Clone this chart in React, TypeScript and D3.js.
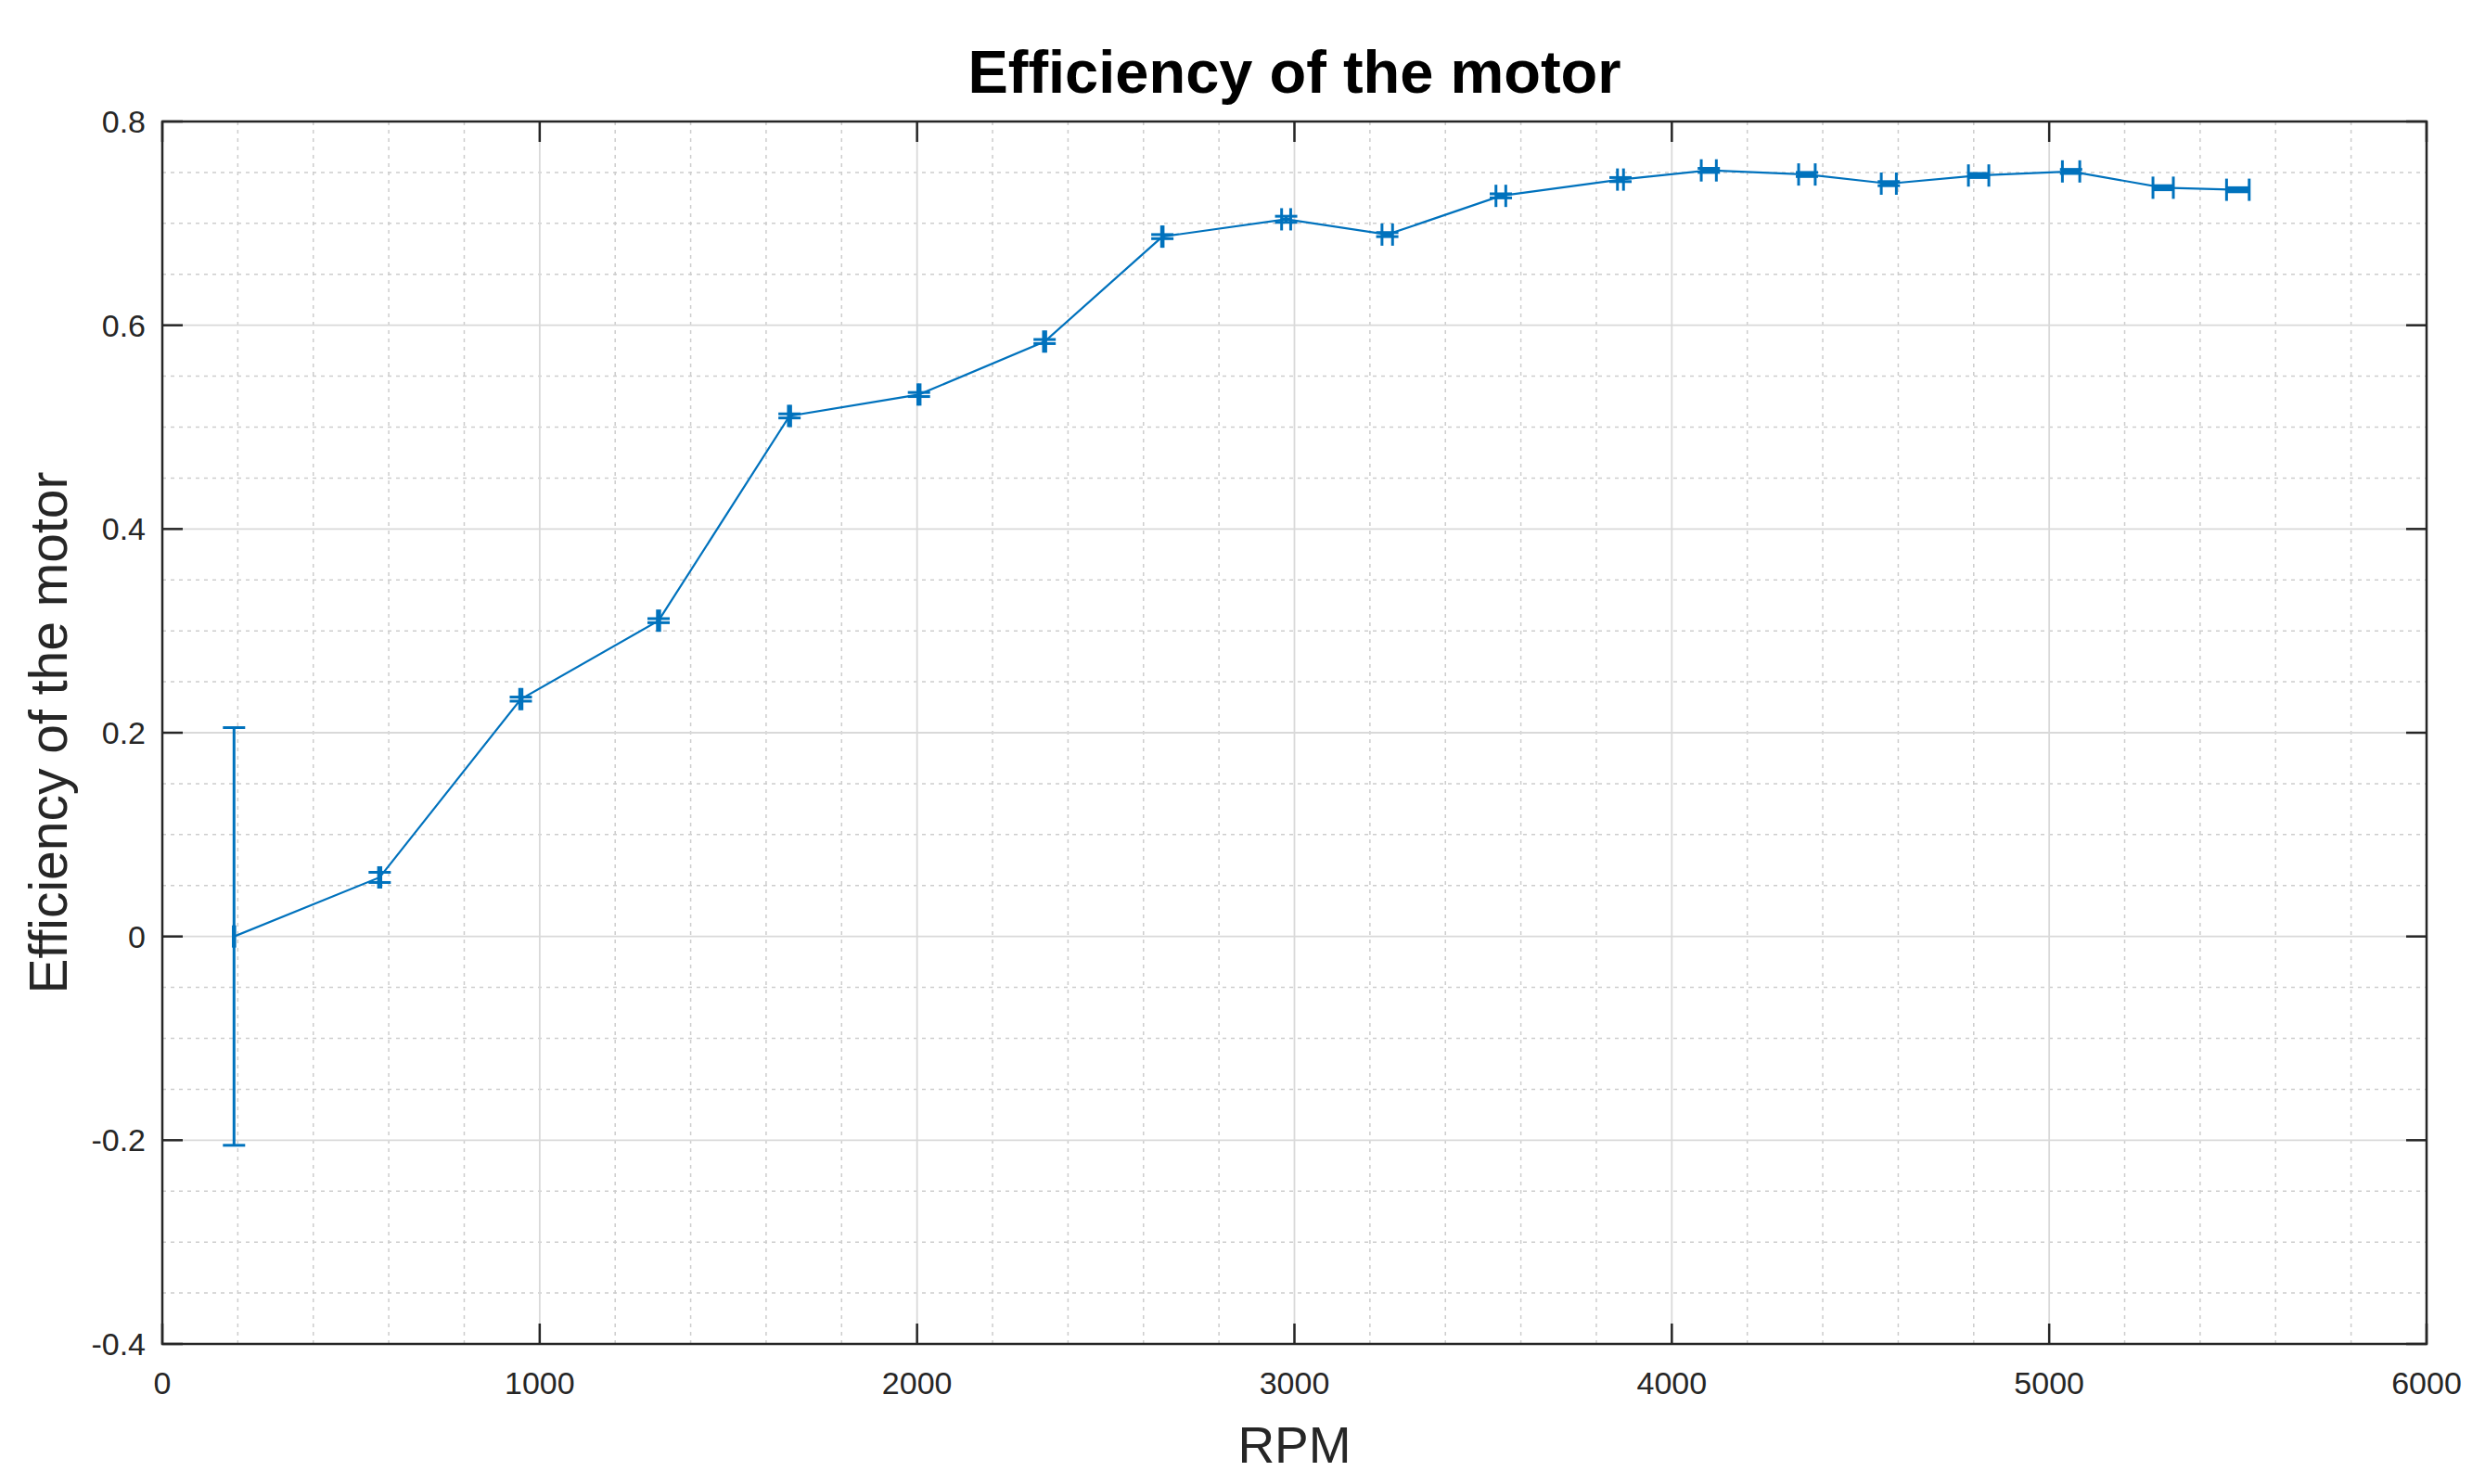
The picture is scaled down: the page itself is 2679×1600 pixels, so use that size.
import React, { useEffect, useRef } from 'react';
import * as d3 from 'd3';

// measured points (RPM vs efficiency), with error in both directions
const rpm = [190, 576, 950, 1315, 1662, 2005, 2338, 2650, 2978, 3246, 3547, 3864, 4098, 4358, 4575, 4813, 5058, 5302, 5500];
const efficiency = [0.0, 0.058, 0.233, 0.31, 0.511, 0.532, 0.584, 0.687, 0.704, 0.689, 0.727, 0.743, 0.752, 0.748, 0.739, 0.747, 0.751, 0.735, 0.733];
const efficiencyErr = [0.205, 0.005, 0.002, 0.002, 0.002, 0.002, 0.002, 0.002, 0.003, 0.002, 0.002, 0.002, 0.002, 0.002, 0.002, 0.002, 0.002, 0.002, 0.002];
const rpmErr = [2, 3, 3, 3, 3, 3, 3, 2, 12, 14, 13, 8, 20, 22, 20, 27, 23, 27, 30];

const xTicks = [0, 1000, 2000, 3000, 4000, 5000, 6000];
const yTicks = [-0.4, -0.2, 0, 0.2, 0.4, 0.6, 0.8];

const title = 'Efficiency of the motor';
const xLabel = 'RPM';
const yLabel = 'Efficiency of the motor';

const W = 2679;
const H = 1600;
const margin = { top: 131, right: 63, bottom: 151, left: 175 };
const blue = '#0072BD';
const ink = '#262626';
const font = '"Liberation Sans", Arial, Helvetica, sans-serif';

const App: React.FC = () => {
  const ref = useRef<SVGSVGElement>(null);

  useEffect(() => {
    document.body.style.margin = '0';
    if (!ref.current) return;
    const svg = d3.select(ref.current);
    svg.selectAll('*').remove();

    const x = d3.scaleLinear().domain([0, 6000]).range([margin.left, W - margin.right]);
    const y = d3.scaleLinear().domain([-0.4, 0.8]).range([H - margin.bottom, margin.top]);
    const [x0, x1] = x.range();
    const [y0, y1] = y.range();

    svg.append('rect').attr('width', W).attr('height', H).attr('fill', '#fff');

    // minor grid (dotted)
    const minor = svg.append('g').attr('stroke', '#cdcdcd').attr('stroke-width', 1.5).attr('stroke-dasharray', '4,5');
    x.ticks(30)
      .filter((t) => !xTicks.includes(t))
      .forEach((t) => minor.append('line').attr('x1', x(t)).attr('x2', x(t)).attr('y1', y0).attr('y2', y1));
    y.ticks(24)
      .filter((t) => !yTicks.some((m) => Math.abs(m - t) < 1e-9))
      .forEach((t) => minor.append('line').attr('y1', y(t)).attr('y2', y(t)).attr('x1', x0).attr('x2', x1));

    // major grid
    const major = svg.append('g').attr('stroke', '#d9d9d9').attr('stroke-width', 1.8);
    xTicks.forEach((t) => major.append('line').attr('x1', x(t)).attr('x2', x(t)).attr('y1', y0).attr('y2', y1));
    yTicks.forEach((t) => major.append('line').attr('y1', y(t)).attr('y2', y(t)).attr('x1', x0).attr('x2', x1));

    // data line
    const line = d3
      .line<number>()
      .x((_, i) => x(rpm[i]))
      .y((d) => y(d));
    svg
      .append('path')
      .datum(efficiency)
      .attr('d', line)
      .attr('fill', 'none')
      .attr('stroke', blue)
      .attr('stroke-width', 2.2);

    // error bars, vertical and horizontal, with caps
    const cap = 12;
    const eb = svg.append('g').attr('stroke', blue).attr('stroke-width', 3).attr('fill', 'none');
    rpm.forEach((r, i) => {
      const cx = x(r);
      const cy = y(efficiency[i]);
      const yt = y(efficiency[i] + efficiencyErr[i]);
      const yb = y(efficiency[i] - efficiencyErr[i]);
      const xl = x(r - rpmErr[i]);
      const xr = x(r + rpmErr[i]);
      eb.append('line').attr('x1', cx).attr('x2', cx).attr('y1', yt).attr('y2', yb);
      eb.append('line').attr('x1', cx - cap).attr('x2', cx + cap).attr('y1', yt).attr('y2', yt);
      eb.append('line').attr('x1', cx - cap).attr('x2', cx + cap).attr('y1', yb).attr('y2', yb);
      eb.append('line').attr('x1', xl).attr('x2', xr).attr('y1', cy).attr('y2', cy);
      eb.append('line').attr('x1', xl).attr('x2', xl).attr('y1', cy - cap).attr('y2', cy + cap);
      eb.append('line').attr('x1', xr).attr('x2', xr).attr('y1', cy - cap).attr('y2', cy + cap);
    });

    // box
    svg
      .append('rect')
      .attr('x', x0)
      .attr('y', y1)
      .attr('width', x1 - x0)
      .attr('height', y0 - y1)
      .attr('fill', 'none')
      .attr('stroke', ink)
      .attr('stroke-width', 2.5);

    // inward ticks on all four sides
    const tl = 22;
    const ticks = svg.append('g').attr('stroke', ink).attr('stroke-width', 2.5);
    xTicks.forEach((t) => {
      ticks.append('line').attr('x1', x(t)).attr('x2', x(t)).attr('y1', y0).attr('y2', y0 - tl);
      ticks.append('line').attr('x1', x(t)).attr('x2', x(t)).attr('y1', y1).attr('y2', y1 + tl);
    });
    yTicks.forEach((t) => {
      ticks.append('line').attr('y1', y(t)).attr('y2', y(t)).attr('x1', x0).attr('x2', x0 + tl);
      ticks.append('line').attr('y1', y(t)).attr('y2', y(t)).attr('x1', x1).attr('x2', x1 - tl);
    });

    // tick labels
    const labels = svg.append('g').attr('font-family', font).attr('font-size', 34).attr('fill', ink);
    xTicks.forEach((t) =>
      labels
        .append('text')
        .attr('x', x(t))
        .attr('y', y0 + 54)
        .attr('text-anchor', 'middle')
        .text(String(t)),
    );
    yTicks.forEach((t) =>
      labels
        .append('text')
        .attr('x', x0 - 18)
        .attr('y', y(t) + 12)
        .attr('text-anchor', 'end')
        .text(t === 0 ? '0' : String(+t.toFixed(1))),
    );

    // title and axis labels
    svg
      .append('text')
      .attr('x', (x0 + x1) / 2)
      .attr('y', 100)
      .attr('text-anchor', 'middle')
      .attr('font-family', font)
      .attr('font-weight', 'bold')
      .attr('font-size', 65)
      .attr('fill', '#000')
      .text(title);
    svg
      .append('text')
      .attr('x', (x0 + x1) / 2)
      .attr('y', 1577)
      .attr('text-anchor', 'middle')
      .attr('font-family', font)
      .attr('font-size', 55)
      .attr('fill', ink)
      .text(xLabel);
    svg
      .append('text')
      .attr('transform', `translate(72,${(y0 + y1) / 2}) rotate(-90)`)
      .attr('text-anchor', 'middle')
      .attr('font-family', font)
      .attr('font-size', 57)
      .attr('fill', ink)
      .text(yLabel);
  }, []);

  return <svg ref={ref} width={W} height={H} style={{ display: 'block' }} />;
};

export default App;
